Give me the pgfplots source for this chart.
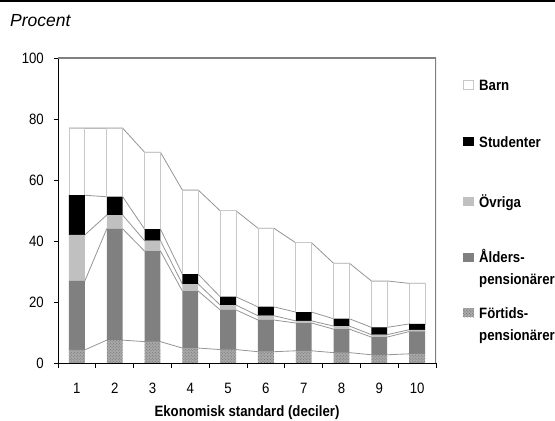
\documentclass[border=0pt]{standalone}
\usepackage{fontspec}
\setmainfont{Liberation Sans}
\newfontfamily\cond[FakeStretch=0.88]{Liberation Sans}
\usepackage{pgfplots}
\pgfplotsset{compat=1.18}
\usepackage{pgfplotstable}
\usetikzlibrary{patterns}

\definecolor{barnline}{HTML}{C8C8C8}
\definecolor{ovriga}{HTML}{C0C0C0}
\definecolor{alders}{HTML}{808080}
\definecolor{forfill}{HTML}{A8A8A8}
\definecolor{fordots}{HTML}{6E6E6E}
\definecolor{link}{HTML}{959595}
\definecolor{frame}{HTML}{808080}

% every decile twice: left and right edge of its bar (dx)
\pgfplotstableread{
cat dx    f   a    o    s    b
1  -0.21 4.3 22.6 15.1 13.0 22.0
1   0.21 4.3 22.6 15.1 13.0 22.0
2  -0.21 7.5 36.5  4.5  6.0 22.5
2   0.21 7.5 36.5  4.5  6.0 22.5
3  -0.21 7.0 29.7  3.4  3.8 25.2
3   0.21 7.0 29.7  3.4  3.8 25.2
4  -0.21 4.9 18.7  2.3  3.2 27.6
4   0.21 4.9 18.7  2.3  3.2 27.6
5  -0.21 4.4 13.0  1.6  2.7 28.2
5   0.21 4.4 13.0  1.6  2.7 28.2
6  -0.21 3.7 10.4  1.4  2.9 25.8
6   0.21 3.7 10.4  1.4  2.9 25.8
7  -0.21 4.0  9.1  0.7  2.9 22.7
7   0.21 4.0  9.1  0.7  2.9 22.7
8  -0.21 3.4  7.7  1.0  2.4 18.2
8   0.21 3.4  7.7  1.0  2.4 18.2
9  -0.21 2.7  5.8  0.8  2.4 15.2
9   0.21 2.7  5.8  0.8  2.4 15.2
10 -0.21 3.0  7.3  0.6  1.9 13.3
10  0.21 3.0  7.3  0.6  1.9 13.3
}\data

\pgfplotsset{common/.style={
    scale only axis, width=378bp, height=305bp,
    at={(58bp,58bp)}, anchor=south west,
    xmin=0.5, xmax=10.5, ymin=0, ymax=100}}

\newcommand{\lab}{\cond\fontsize{15bp}{17bp}\selectfont}

\begin{document}
\begin{tikzpicture}
\path[use as bounding box] (0,0) rectangle (555bp,421bp);
\draw[line width=2bp] (0,420bp) -- (555bp,420bp);
\node[anchor=base west, inner sep=0pt, font=\fontsize{17.5bp}{20bp}\selectfont\itshape]
    at (10bp,394bp) {Procent};

% lines linking the layers of neighbouring bars
\begin{axis}[common, hide axis, stack plots=y, no markers]
\addplot[link, line width=0.8bp] table[x expr=\thisrow{cat}+\thisrow{dx}, y=f] {\data};
\addplot[link, line width=0.8bp] table[x expr=\thisrow{cat}+\thisrow{dx}, y=a] {\data};
\addplot[link, line width=0.8bp] table[x expr=\thisrow{cat}+\thisrow{dx}, y=o] {\data};
\addplot[link, line width=0.8bp] table[x expr=\thisrow{cat}+\thisrow{dx}, y=s] {\data};
\addplot[link, line width=0.8bp] table[x expr=\thisrow{cat}+\thisrow{dx}, y=b] {\data};
\end{axis}

\begin{axis}[common,
    ybar stacked, bar width=0.42,
    each nth point=2, filter discard warning=false,
    axis x line*=bottom, axis y line*=left,
    axis line style={-, black, line width=0.8bp},
    tick align=outside,
    tick style={black, line width=0.8bp},
    xtick={1,...,10},
    major x tick style={draw=none},
    minor xtick={0.5,1.5,...,10.5},
    minor tick length=5bp,
    ytick={0,20,...,100},
    major tick length=4.5bp,
    /pgf/number format/assume math mode=true,
    ticklabel style={font=\lab},
    xticklabel style={anchor=base, inner sep=0pt, yshift=-26bp},
    yticklabel style={anchor=east, inner sep=0pt, xshift=-9.5bp},
    xlabel={\bfseries Ekonomisk standard (deciler)},
    xlabel style={font=\lab, at={(axis description cs:0.5,0)}, anchor=base, inner sep=0pt, yshift=-53bp},
]
\addplot[fill=forfill, draw=none, postaction={pattern=crosshatch dots, pattern color=fordots}]
    table[x=cat, y=f] {\data};
\addplot[fill=alders, draw=none] table[x=cat, y=a] {\data};
\addplot[fill=ovriga, draw=none] table[x=cat, y=o] {\data};
\addplot[fill=black, draw=none] table[x=cat, y=s] {\data};
\addplot[fill=white, draw=barnline, line width=0.8bp] table[x=cat, y=b] {\data};
\draw[frame, line width=1.2bp] (rel axis cs:0,1) -- (rel axis cs:1,1) -- (rel axis cs:1,0);
\end{axis}

% legend
\begin{scope}[font=\lab\bfseries]
\filldraw[fill=white, draw=barnline, line width=0.6bp] (463.5bp,331.5bp) rectangle (473.5bp,340.5bp);
\node[anchor=base west, inner sep=0pt] at (479bp,330.6bp) {Barn};
\fill[black] (463bp,274.5bp) rectangle (474bp,283.5bp);
\node[anchor=base west, inner sep=0pt] at (479bp,273.6bp) {Studenter};
\fill[ovriga] (463bp,214.5bp) rectangle (474bp,223.5bp);
\node[anchor=base west, inner sep=0pt] at (479bp,213.6bp) {Övriga};
\fill[alders] (463bp,159bp) rectangle (474bp,168bp);
\node[anchor=base west, inner sep=0pt] at (479bp,158.1bp) {Ålders-};
\node[anchor=base west, inner sep=0pt] at (479bp,136.1bp) {pensionärer};
\fill[forfill] (463bp,103.5bp) rectangle (474bp,112.5bp);
\fill[pattern=crosshatch dots, pattern color=fordots] (463bp,103.5bp) rectangle (474bp,112.5bp);
\node[anchor=base west, inner sep=0pt] at (479bp,102.6bp) {Förtids-};
\node[anchor=base west, inner sep=0pt] at (479bp,80.6bp) {pensionärer};
\end{scope}
\end{tikzpicture}
\end{document}
